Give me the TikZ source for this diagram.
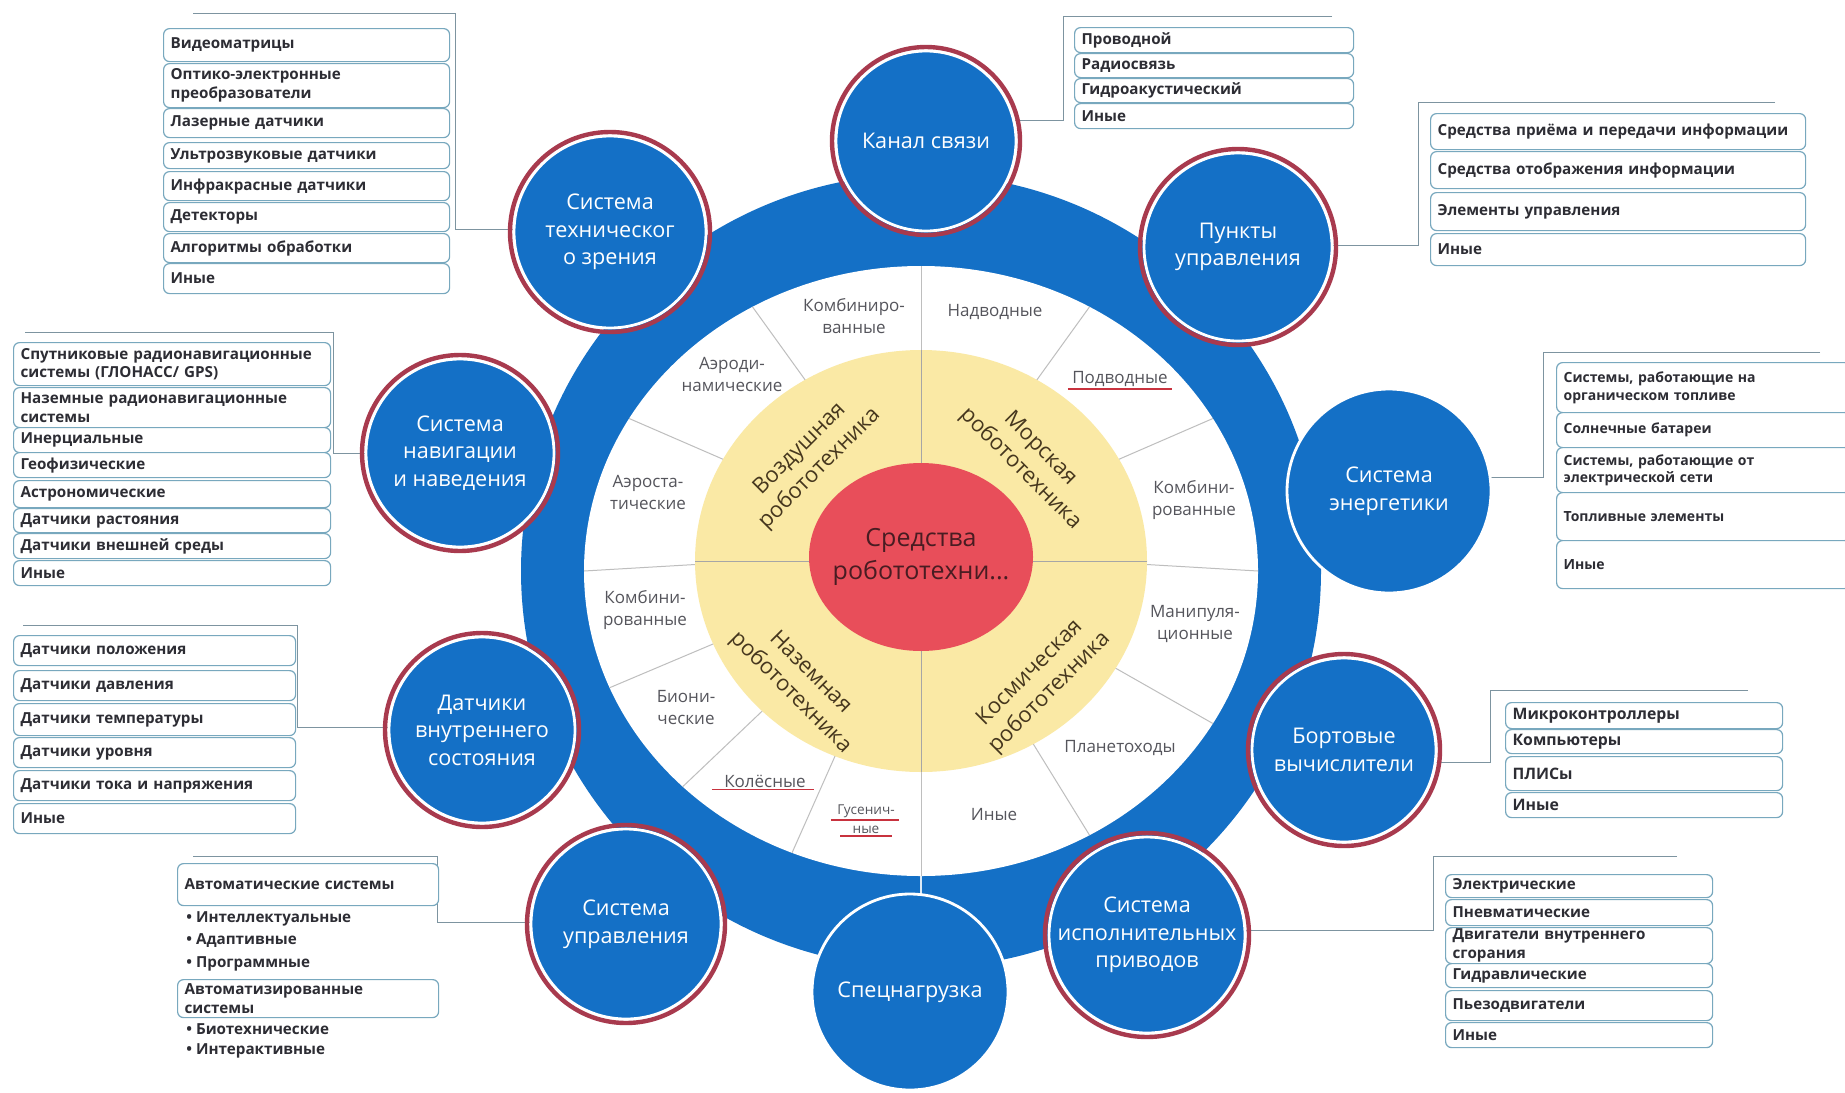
\documentclass[tikz,border=0pt]{standalone}
\usepackage{fontspec}
\setmainfont{Open Sans}
\usetikzlibrary{shapes.geometric}
\pgfdeclarelayer{base}
\pgfdeclarelayer{links}
\pgfsetlayers{base,links,main}

\definecolor{ringblue}{RGB}{20,112,198}
\definecolor{hubyellow}{RGB}{250,233,165}
\definecolor{hubred}{RGB}{232,78,90}
\definecolor{rimred}{RGB}{168,58,78}
\definecolor{boxedge}{RGB}{120,168,190}
\definecolor{leadgray}{RGB}{125,148,160}
\definecolor{labelgray}{RGB}{85,85,92}
\definecolor{ulred}{RGB}{200,50,62}
\definecolor{boxtext}{RGB}{45,45,52}
\definecolor{quadtext}{RGB}{70,55,30}
\definecolor{hubtext}{RGB}{72,28,34}
\definecolor{divgray}{RGB}{190,190,190}

\newcommand\boxsize{\fontsize{7.6}{9.4}\selectfont}
% rounded list entry: {name}{x1}{y1}{x2}{y2}{text}
\newcommand\entrybox[6]{%
  \pgfmathsetmacro\ebW{(#4-#2)*0.5}%
  \pgfmathsetmacro\ebH{(#5-#3)*0.5}%
  \pgfmathsetmacro\ebT{\ebW-7}%
  \node[listbox, anchor=north west, minimum width=\ebW pt,
        minimum height=\ebH pt, text width=\ebT pt] (#1) at (#2,#3) {#6};}

\begin{document}
\begin{tikzpicture}[x=0.5pt,y=-0.5pt,
  sat/.style={circle, fill=ringblue, draw=white, line width=1.4pt, text=white,
    align=center, inner sep=0pt, font=\fontsize{10.8}{13.8}\selectfont},
  rim/.style={circle, draw=rimred, line width=2.2pt, inner sep=0pt},
  listbox/.style={rectangle, rounded corners=3pt, draw=boxedge, line width=0.6pt,
    fill=white, align=left, inner xsep=3.5pt, inner ysep=0pt,
    font=\bfseries\boxsize, text=boxtext},
  bulletline/.style={anchor=west, inner sep=0pt, font=\bfseries\boxsize, text=boxtext},
  lead/.style={draw=leadgray, line width=0.5pt},
  seclbl/.style={text=labelgray, align=center, inner sep=1pt,
    font=\fontsize{8.5}{11}\selectfont},
  quadlbl/.style={text=quadtext, align=center, inner sep=0pt,
    font=\fontsize{11}{14}\selectfont},
  ul/.style={draw=ulred, line width=0.8pt},
  divider/.style={draw=divgray, line width=0.5pt}]

\useasboundingbox (0,0) rectangle (1845,1092);

% ---------- central hub ----------
\begin{pgfonlayer}{base}
  \fill[white] (0,0) rectangle (1845,1092);
  \node[ellipse, fill=ringblue, minimum width=400pt, minimum height=397pt, inner sep=0pt] (outer) at (921,571) {};
  \node[ellipse, fill=white, minimum width=337pt, minimum height=305pt, inner sep=0pt] (field) at (921,571) {};
  \foreach \a in {0,30,60,90,120,150,180,202.5,225,247.5,270,300,330}
    \draw[divider] ({921+200*cos(\a)},{563-186*sin(\a)}) -- ({921+337*cos(\a)},{571-305*sin(\a)});
  \draw[draw=white!85!ringblue, line width=0.6pt] (921,876) -- (921,905);
  \node[ellipse, fill=hubyellow, minimum width=226pt, minimum height=211pt, inner sep=0pt] (sectors) at (921,561) {};
  \draw[draw=gray!70, line width=0.5pt] (921,350) -- (921,772);
  \draw[draw=gray!70, line width=0.5pt] (695,561) -- (1147,561);
  \node[ellipse, fill=hubred, minimum width=112pt, minimum height=94pt, inner sep=0pt] (hub) at (921,557) {};
\end{pgfonlayer}
\node[text=hubtext, align=center, inner sep=0pt, font=\fontsize{12.5}{16.5}\selectfont]
  (hubtitle) at (hub) {Средства\\робототехни...};

% quadrant names
\node[quadlbl, rotate=45]  (qair)   at (810,459)  {Воздушная\\робототехника};
\node[quadlbl, rotate=-45] (qsea)   at (1030,459) {Морская\\робототехника};
\node[quadlbl, rotate=45]  (qspace) at (1040,683) {Космическая\\робототехника};
\node[quadlbl, rotate=-45] (qland)  at (800,683)  {Наземная\\робототехника};

% ring sections
\node[seclbl] (s1)  at (854,316)  {Комбиниро-\\ванные};
\node[seclbl] (s2)  at (995,312)  {Надводные};
\node[seclbl] (s3)  at (1120,379) {Подводные};
\node[seclbl] (s4)  at (1194,500) {Комбини-\\рованные};
\node[seclbl] (s5)  at (1195,624) {Манипуля-\\ционные};
\node[seclbl] (s6)  at (1120,748) {Планетоходы};
\node[seclbl] (s7)  at (994,815)  {Иные};
\node[seclbl, font=\fontsize{6.8}{8}\selectfont] (s8a) at (866,811) {Гусенич-};
\node[seclbl, font=\fontsize{6.8}{8}\selectfont] (s8b) at (866,830) {ные};
\node[seclbl] (s9)  at (765,781)  {Колёсные};
\node[seclbl] (s10) at (686,708)  {Биони-\\ческие};
\node[seclbl] (s11) at (645,610)  {Комбини-\\рованные};
\node[seclbl] (s12) at (648,492)  {Аэроста-\\тические};
\node[seclbl] (s13) at (732,374)  {Аэроди-\\намические};
\draw[ul] ([xshift=-1pt]s3.south west) -- ([xshift=1pt]s3.south east);
\draw[ul] ([xshift=-5pt]s9.south west) -- ([xshift=3pt]s9.south east);
\draw[ul] ([xshift=-2pt]s8a.south west) -- ([xshift=1pt]s8a.south east);
\draw[ul] ([xshift=-5pt]s8b.south west) -- ([xshift=5pt]s8b.south east);

% ---------- satellites ----------
\node[sat, minimum size=96pt]  (zren)   at (610,232)  {Система\\техническог\\о зрения};
\node[sat, minimum size=90pt]  (kanal)  at (926,141)  {Канал связи};
\node[sat, minimum size=94pt]  (punkt)  at (1238,247) {Пункты\\управления};
\node[sat, minimum size=102pt] (energ)  at (1389,491) {Система\\энергетики};
\node[sat, minimum size=92pt]  (bort)   at (1344,750) {Бортовые\\вычислители};
\node[sat, minimum size=98pt]  (privod) at (1147,935) {Система\\исполнительных\\приводов};
\node[sat, minimum size=98pt]  (spec)   at (910,992)  {Спецнагрузка};
\node[sat, minimum size=95pt]  (upr)    at (626,924)  {Система\\управления};
\node[sat, minimum size=93pt]  (dvs)    at (482,730)  {Датчики\\внутреннего\\состояния};
\node[sat, minimum size=94pt]  (nav)    at (460,453)  {Система\\навигации\\и наведения};

\foreach \n/\d in {zren/100, kanal/94, punkt/98, bort/96, privod/102, upr/99, dvs/97, nav/98}
  \node[rim, minimum size=\d pt] (\n-rim) at (\n) {};

% ---------- leaders ----------
\coordinate (k1a) at (193,13);   \coordinate (k1b) at (455,13);   \coordinate (k1c) at (455,229);
\coordinate (k2a) at (1332,16);  \coordinate (k2b) at (1063,16);  \coordinate (k2c) at (1063,120);
\coordinate (k3a) at (1775,102); \coordinate (k3b) at (1418,102); \coordinate (k3c) at (1418,245);
\coordinate (k4a) at (25,332);   \coordinate (k4b) at (333,332);  \coordinate (k4c) at (333,453);
\coordinate (k5a) at (1820,352); \coordinate (k5b) at (1543,352); \coordinate (k5c) at (1543,477);
\coordinate (k6a) at (23,625);   \coordinate (k6b) at (297,625);  \coordinate (k6c) at (297,727);
\coordinate (k7a) at (1748,690); \coordinate (k7b) at (1490,690); \coordinate (k7c) at (1490,762);
\coordinate (k8a) at (193,856);  \coordinate (k8b) at (437,856);  \coordinate (k8c) at (437,922);
\coordinate (k9a) at (1677,856); \coordinate (k9b) at (1433,856); \coordinate (k9c) at (1433,930);
\begin{pgfonlayer}{links}
  \draw[lead] (k1a) -- (k1b) -- (k1c) -- (k1c -| zren.center);
  \draw[lead] (k2a) -- (k2b) -- (k2c) -- (k2c -| kanal.center);
  \draw[lead] (k3a) -- (k3b) -- (k3c) -- (k3c -| punkt.center);
  \draw[lead] (k4a) -- (k4b) -- (k4c) -- (k4c -| nav.center);
  \draw[lead] (k5a) -- (k5b) -- (k5c) -- (k5c -| energ.center);
  \draw[lead] (k6a) -- (k6b) -- (k6c) -- (k6c -| dvs.center);
  \draw[lead] (k7a) -- (k7b) -- (k7c) -- (k7c -| bort.center);
  \draw[lead] (k8a) -- (k8b) -- (k8c) -- (k8c -| upr.center);
  \draw[lead] (k9a) -- (k9b) -- (k9c) -- (k9c -| privod.center);
\end{pgfonlayer}

% ---------- lists ----------
% technical vision
\entrybox{v1}{163}{28}{449}{61}{Видеоматрицы}
\entrybox{v2}{163}{63}{449}{107}{Оптико-электронные\\преобразователи}
\entrybox{v3}{163}{108}{449}{137}{Лазерные датчики}
\entrybox{v4}{163}{142}{449}{168}{Ультрозвуковые датчики}
\entrybox{v5}{163}{171}{449}{200}{Инфракрасные датчики}
\entrybox{v6}{163}{202}{449}{231}{Детекторы}
\entrybox{v7}{163}{233}{449}{262}{Алгоритмы обработки}
\entrybox{v8}{163}{263}{449}{293}{Иные}
% communication channel
\entrybox{c1}{1074}{27}{1353}{52}{Проводной}
\entrybox{c2}{1074}{53}{1353}{77}{Радиосвязь}
\entrybox{c3}{1074}{78}{1353}{102}{Гидроакустический}
\entrybox{c4}{1074}{103}{1353}{128}{Иные}
% control posts
\entrybox{p1}{1430}{113}{1805}{149}{\mbox{Средства приёма и передачи информации}}
\entrybox{p2}{1430}{151}{1805}{188}{Средства отображения информации}
\entrybox{p3}{1430}{192}{1805}{230}{Элементы управления}
\entrybox{p4}{1430}{233}{1805}{265}{Иные}
% navigation
\entrybox{n1}{13}{342}{330}{385}{\mbox{Спутниковые радионавигационные}\\системы (ГЛОНАСС/ GPS)}
\entrybox{n2}{13}{387}{330}{427}{\mbox{Наземные радионавигационные}\\системы}
\entrybox{n3}{13}{427}{330}{452}{Инерциальные}
\entrybox{n4}{13}{452}{330}{477}{Геофизические}
\entrybox{n5}{13}{480}{330}{507}{Астрономические}
\entrybox{n6}{13}{508}{330}{532}{Датчики растояния}
\entrybox{n7}{13}{533}{330}{558}{Датчики внешней среды}
\entrybox{n8}{13}{560}{330}{585}{Иные}
% power
\renewcommand\boxsize{\fontsize{7.0}{8.8}\selectfont}
\entrybox{e1}{1556}{362}{1850}{412}{Системы, работающие на\\органическом топливе}
\entrybox{e2}{1556}{412}{1850}{447}{Солнечные батареи}
\entrybox{e3}{1556}{447}{1850}{492}{Системы, работающие от\\электрической сети}
\entrybox{e4}{1556}{492}{1850}{540}{Топливные элементы}
\entrybox{e5}{1556}{540}{1850}{588}{Иные}
\renewcommand\boxsize{\fontsize{7.6}{9.4}\selectfont}
% internal state sensors
\entrybox{d1}{13}{635}{295}{665}{Датчики положения}
\entrybox{d2}{13}{670}{295}{700}{Датчики давления}
\entrybox{d3}{13}{703}{295}{735}{Датчики температуры}
\entrybox{d4}{13}{737}{295}{767}{Датчики уровня}
\entrybox{d5}{13}{770}{295}{800}{Датчики тока и напряжения}
\entrybox{d6}{13}{803}{295}{833}{Иные}
% on-board computers
\renewcommand\boxsize{\fontsize{7.9}{9.6}\selectfont}
\entrybox{b1}{1505}{702}{1782}{728}{Микроконтроллеры}
\entrybox{b2}{1505}{729}{1782}{753}{Компьютеры}
\entrybox{b3}{1505}{756}{1782}{790}{ПЛИСы}
\entrybox{b4}{1505}{792}{1782}{817}{Иные}
\renewcommand\boxsize{\fontsize{7.6}{9.4}\selectfont}
% control system
\entrybox{u1}{177}{863}{438}{905}{Автоматические системы}
\node[bulletline] (u1a) at (186,919)  {• Интеллектуальные};
\node[bulletline] (u1b) at (186,941)  {• Адаптивные};
\node[bulletline] (u1c) at (186,964)  {• Программные};
\entrybox{u2}{177}{979}{438}{1017}{Автоматизированные\\системы}
\node[bulletline] (u2a) at (186,1029) {• Биотехнические};
\node[bulletline] (u2b) at (186,1051) {• Интерактивные};
% actuators
\entrybox{a1}{1445}{874}{1712}{897}{Электрические}
\entrybox{a2}{1445}{899}{1712}{925}{Пневматические}
\entrybox{a3}{1445}{927}{1712}{963}{Двигатели внутреннего\\сгорания}
\entrybox{a4}{1445}{963}{1712}{987}{Гидравлические}
\entrybox{a5}{1445}{990}{1712}{1020}{Пьезодвигатели}
\entrybox{a6}{1445}{1022}{1712}{1047}{Иные}

\end{tikzpicture}
\end{document}
